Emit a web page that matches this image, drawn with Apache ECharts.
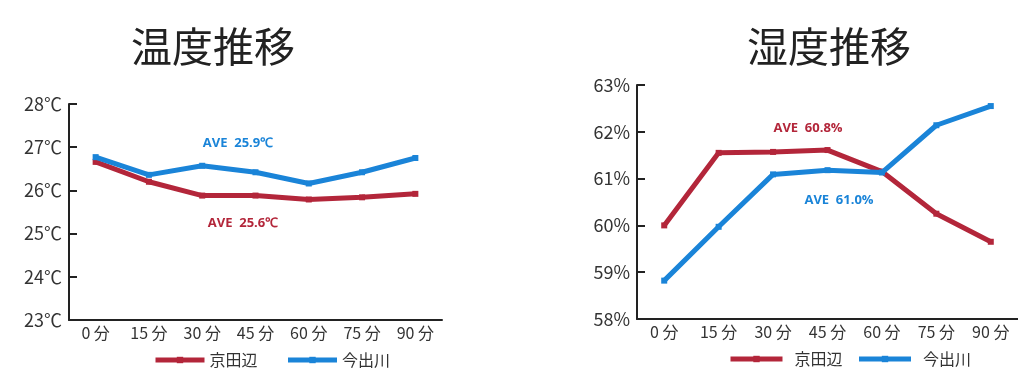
<!DOCTYPE html>
<html>
<head>
<meta charset="utf-8">
<script src="https://cdn.jsdelivr.net/npm/echarts@6/dist/echarts.min.js"></script>
<style>
  html, body { margin: 0; padding: 0; background: #fff; }
  #chart { width: 1018px; height: 371px; }
</style>
</head>
<body>
<div id="chart"></div>
<script>
// Time points (minutes)
const categories = ['0 分', '15 分', '30 分', '45 分', '60 分', '75 分', '90 分'];
const seriesNames = ['京田辺', '今出川'];

// Temperature (℃)
const tempKyotanabe = [26.66, 26.20, 25.88, 25.88, 25.79, 25.84, 25.92];
const tempImadegawa = [26.77, 26.36, 26.57, 26.42, 26.16, 26.42, 26.75];

// Humidity (%)
const humKyotanabe = [60.00, 61.55, 61.57, 61.61, 61.15, 60.25, 59.65];
const humImadegawa = [58.82, 59.97, 61.09, 61.18, 61.13, 62.14, 62.55];

const titles = ['温度推移', '湿度推移'];
const tempAveLabels = ['AVE  25.6℃', 'AVE  25.9℃'];
const humAveLabels = ['AVE  60.8%', 'AVE  61.0%'];

const RED = '#b3263a';
const BLUE = '#1a84d8';
const AXIS = '#222';
const FONT = '"Noto Sans CJK JP", "Noto Sans", sans-serif';

function xAxis(gridIndex) {
  return {
    type: 'category', gridIndex, data: categories, boundaryGap: true,
    axisLine: { lineStyle: { color: AXIS, width: 2 } },
    axisTick: { inside: true, length: 5, lineStyle: { color: AXIS, width: 2 } },
    axisLabel: { color: '#333', fontSize: 16, fontFamily: FONT, margin: 5 }
  };
}
function yAxis(gridIndex, min, max, unit) {
  return {
    type: 'value', gridIndex, min, max, interval: 1,
    axisLine: { show: true, lineStyle: { color: AXIS, width: 2 } },
    axisTick: { show: true, inside: true, length: 8, lineStyle: { color: AXIS, width: 2 } },
    splitLine: { show: false },
    axisLabel: { color: '#333', fontSize: 18, fontFamily: FONT, margin: 7, formatter: '{value}' + unit }
  };
}
function line(name, color, data, idx) {
  return {
    name, type: 'line', data, xAxisIndex: idx, yAxisIndex: idx,
    symbol: 'rect', symbolSize: 6, showSymbol: true,
    lineStyle: { color, width: 5 },
    itemStyle: { color },
    z: name === seriesNames[1] ? 3 : 2,
    animation: false
  };
}
const aveStyle = { fontSize: 13, fontWeight: 'bold', fontFamily: '"Open Sans", sans-serif' };
const legendBase = {
  data: seriesNames, padding: 0, itemHeight: 8,
  lineStyle: { width: 5 },
  textStyle: { fontSize: 16, color: '#333', fontFamily: FONT }
};

const chart = echarts.init(document.getElementById('chart'), null, { renderer: 'canvas' });
chart.setOption({
  backgroundColor: '#fff',
  animation: false,
  title: [
    { text: titles[0], left: 208, top: 21, textAlign: 'center',
      textStyle: { fontSize: 41, fontWeight: 'normal', color: '#222', fontFamily: FONT } },
    { text: titles[1], left: 824, top: 21, textAlign: 'center',
      textStyle: { fontSize: 41, fontWeight: 'normal', color: '#222', fontFamily: FONT } }
  ],
  legend: [
    Object.assign({}, legendBase, { left: 153, top: 352, itemWidth: 49, itemGap: 28 }),
    Object.assign({}, legendBase, { left: 728, top: 351, itemWidth: 52, itemGap: 14,
      textStyle: { fontSize: 16, color: '#333', fontFamily: FONT, padding: [0, 0, 0, 7] } })
  ],
  grid: [
    { left: 69, top: 104, right: 576, bottom: 51 },
    { left: 637, top: 85, right: -4, bottom: 52 }
  ],
  xAxis: [xAxis(0), xAxis(1)],
  yAxis: [yAxis(0, 23, 28, '℃'), yAxis(1, 58, 63, '%')],
  series: [
    line(seriesNames[0], RED, tempKyotanabe, 0),
    line(seriesNames[1], BLUE, tempImadegawa, 0),
    line(seriesNames[0], RED, humKyotanabe, 1),
    line(seriesNames[1], BLUE, humImadegawa, 1)
  ],
  graphic: [
    { type: 'text', x: 243, y: 223, style: Object.assign({ text: tempAveLabels[0], fill: RED, align: 'center', verticalAlign: 'middle' }, aveStyle) },
    { type: 'text', x: 238, y: 143, style: Object.assign({ text: tempAveLabels[1], fill: BLUE, align: 'center', verticalAlign: 'middle' }, aveStyle) },
    { type: 'text', x: 808, y: 128, style: Object.assign({ text: humAveLabels[0], fill: RED, align: 'center', verticalAlign: 'middle' }, aveStyle) },
    { type: 'text', x: 839, y: 200, style: Object.assign({ text: humAveLabels[1], fill: BLUE, align: 'center', verticalAlign: 'middle' }, aveStyle) }
  ]
});
</script>
</body>
</html>
